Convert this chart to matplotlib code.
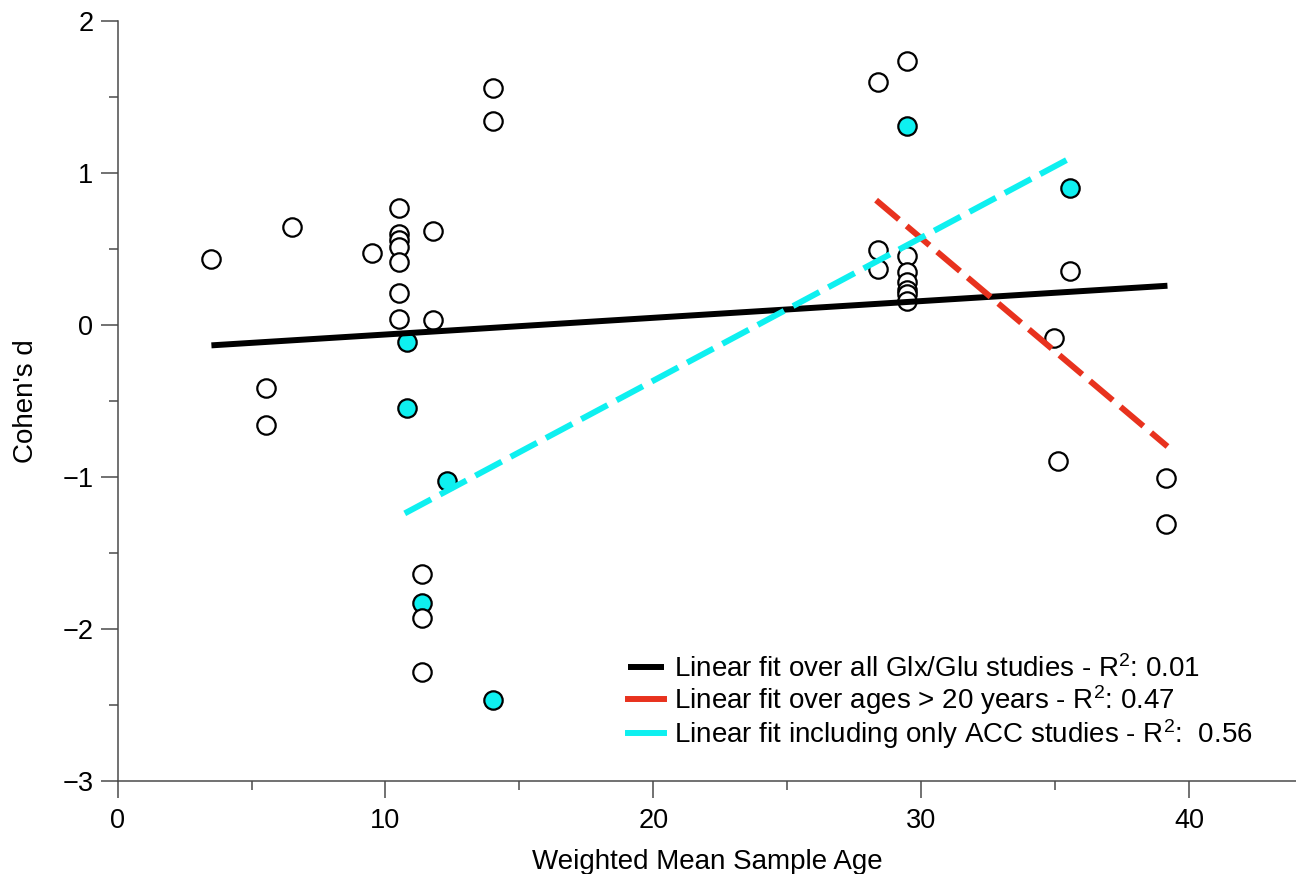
import matplotlib
matplotlib.use("Agg")
import matplotlib.pyplot as plt
from matplotlib.ticker import MultipleLocator

plt.rcParams['font.family'] = ['Liberation Sans', 'DejaVu Sans']
plt.rcParams['mathtext.fontset'] = 'custom'
plt.rcParams['mathtext.rm'] = 'Liberation Sans'
plt.rcParams['mathtext.it'] = 'Liberation Sans'

# open circles: all Glx/Glu studies (not ACC)
other_age = [3.5, 5.52, 5.52, 6.5, 9.5, 10.5, 10.5, 10.5, 10.5, 10.5, 10.5, 10.5,
             11.77, 11.77, 14.0, 14.0, 11.35, 11.35, 11.35,
             28.4, 29.46, 28.4, 28.4, 29.46, 29.46, 29.46, 29.46, 29.46, 29.46,
             35.57, 34.95, 35.12, 39.16, 39.16]
other_d = [0.43, -0.417, -0.66, 0.645, 0.475, 0.77, 0.60, 0.56, 0.51, 0.41, 0.21, 0.04,
           0.616, 0.03, 1.56, 1.34, -1.64, -1.93, -2.28,
           1.60, 1.737, 0.49, 0.37, 0.45, 0.35, 0.28, 0.23, 0.20, 0.16,
           0.355, -0.088, -0.895, -1.01, -1.31]

# filled circles: ACC studies
acc_age = [10.82, 10.82, 12.3, 11.35, 14.0, 29.46, 35.57]
acc_d = [-0.116, -0.55, -1.026, -1.83, -2.47, 1.305, 0.903]

# fitted lines (end points)
fit_all_x = [3.5, 39.2]
fit_all_y = [-0.135, 0.257]
fit_old_x = [28.32, 39.2]
fit_old_y = [0.82, -0.80]
fit_acc_x = [10.72, 35.68]
fit_acc_y = [-1.24, 1.107]

labels = ['Linear fit over all Glx/Glu studies - R$^2$: 0.01',
          'Linear fit over ages > 20 years - R$^2$: 0.47',
          'Linear fit including only ACC studies - R$^2$:  0.56']

cyan = '#0EF0F0'
red = '#E8321E'
axis_grey = '#4a4a4a'

fig = plt.figure(figsize=(12.96, 8.74), dpi=100)
ax = fig.add_axes([0.0908, 0.1064, 0.9092, 0.8699])

ax.scatter(acc_age, acc_d, s=175, facecolor=cyan, edgecolor='black', linewidth=1.6, zorder=2)
ax.scatter(other_age, other_d, s=175, facecolor='white', edgecolor='black', linewidth=1.6, zorder=2)

ax.plot(fit_all_x, fit_all_y, color='black', lw=4.3, solid_capstyle='butt', zorder=3, label=labels[0])
ax.plot(fit_old_x, fit_old_y, color=red, lw=4.3, dashes=(5.0, 1.7), zorder=3, label=labels[1])
ax.plot(fit_acc_x, fit_acc_y, color=cyan, lw=4.3, dashes=(5.0, 1.7), zorder=3, label=labels[2])

ax.set_xlim(0, 44)
ax.set_ylim(-3, 2)
ax.xaxis.set_major_locator(MultipleLocator(10))
ax.xaxis.set_minor_locator(MultipleLocator(5))
ax.yaxis.set_major_locator(MultipleLocator(1))
ax.yaxis.set_minor_locator(MultipleLocator(0.5))

for s in ['top', 'right']:
    ax.spines[s].set_visible(False)
for s in ['left', 'bottom']:
    ax.spines[s].set_color(axis_grey)
    ax.spines[s].set_linewidth(1.1)

ax.tick_params(which='major', length=12.5, width=1.1, color=axis_grey, labelsize=19.5, pad=5)
ax.tick_params(which='minor', length=6.5, width=1.1, color=axis_grey)
ax.tick_params(axis='x', which='major', pad=7)

ax.set_xlabel('Weighted Mean Sample Age', fontsize=20, labelpad=11)
ax.set_ylabel("Cohen's d", fontsize=20, labelpad=17)

leg = ax.legend(loc='lower left', bbox_to_anchor=(0.433, 0.04), frameon=False,
                fontsize=20, handlelength=1.3, handletextpad=0.35, labelspacing=0.0,
                borderpad=0, borderaxespad=0)
for h in leg.get_lines():
    h.set_linestyle('-')

fig.savefig('out.png', dpi=100)
